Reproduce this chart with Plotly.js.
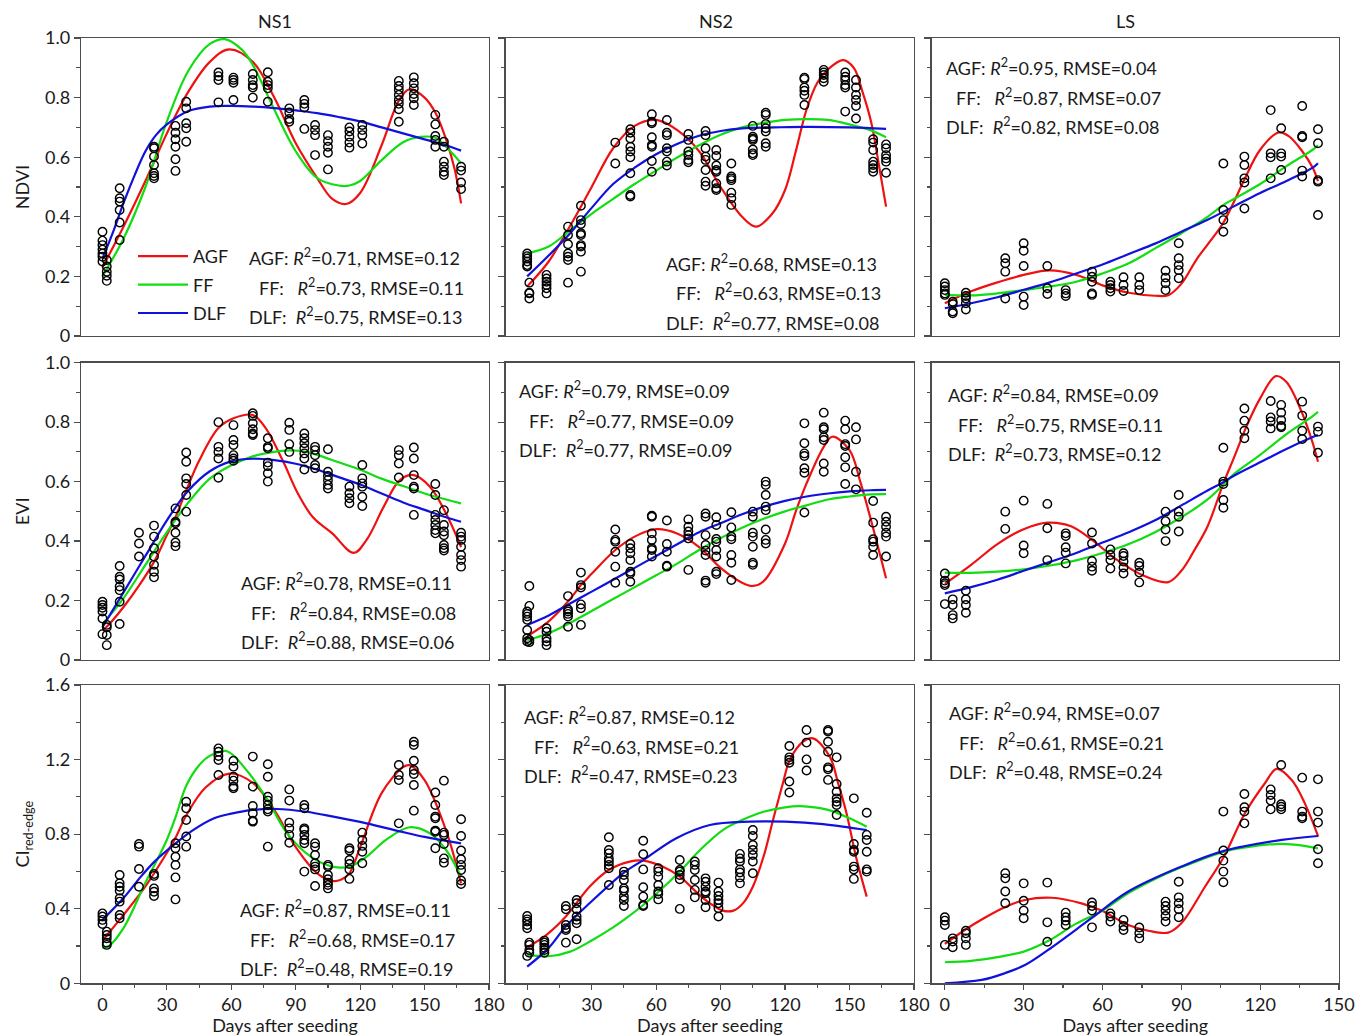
<!DOCTYPE html>
<html>
<head>
<meta charset="utf-8">
<script src="https://cdn.plot.ly/plotly-3.0.1.min.js"></script>
<style>
  html, body { margin: 0; padding: 0; background: #ffffff; }
  #chart { width: 1355px; height: 1036px; }
</style>
</head>
<body>
<div id="chart"></div>
<script>
// ---------------- Sampling days (days after seeding) ----------------
const ns1Days   = [0, 2, 8, 17, 24, 34, 39, 54, 61, 70, 77, 87, 94, 99, 105, 115, 121, 138, 145, 155, 159, 167];
const ns2Days   = [0, 1, 9, 19, 25, 41, 48, 58, 65, 75, 83, 88, 95, 105, 111, 129, 138, 148, 153, 161, 167];
const ns2CiDays = [0, 1, 8, 18, 23, 38, 45, 54, 61, 71, 78, 83, 89, 99, 105, 122, 130, 140, 144, 152, 158];
const lsDays    = [0, 3, 8, 23, 30, 39, 46, 56, 63, 68, 74, 84, 89, 106, 114, 124, 128, 136, 142];

// ---------------- Observed vegetation indices (one list per sampling day) ----------------
const ns1NdviObs = [
  [0.35, 0.32, 0.305, 0.29, 0.277, 0.266, 0.25], [0.255, 0.233, 0.216, 0.202, 0.185],
  [0.496, 0.462, 0.451, 0.423, 0.381, 0.322], [],
  [0.635, 0.63, 0.602, 0.574, 0.546, 0.537, 0.529], [0.705, 0.682, 0.66, 0.635, 0.593, 0.554],
  [0.786, 0.764, 0.714, 0.697, 0.652], [0.884, 0.872, 0.859, 0.784], [0.867, 0.859, 0.85, 0.792],
  [0.879, 0.859, 0.842, 0.834, 0.8], [0.885, 0.853, 0.842, 0.831, 0.786], [0.764, 0.75, 0.728, 0.719],
  [0.792, 0.779, 0.767, 0.695], [0.708, 0.691, 0.674, 0.607], [0.674, 0.654, 0.635, 0.615, 0.559],
  [0.70, 0.686, 0.669, 0.649, 0.632], [0.708, 0.691, 0.674, 0.646],
  [0.856, 0.839, 0.826, 0.809, 0.792, 0.779, 0.761, 0.719], [0.868, 0.848, 0.831, 0.812, 0.798, 0.775],
  [0.742, 0.71, 0.671, 0.658, 0.635], [0.652, 0.635, 0.585, 0.568, 0.551, 0.54], [0.568, 0.555, 0.515, 0.493]
];
const ns1EviObs = [
  [0.196, 0.185, 0.176, 0.163, 0.14, 0.087], [0.118, 0.11, 0.084, 0.05],
  [0.316, 0.28, 0.271, 0.247, 0.235, 0.196, 0.121], [0.428, 0.392, 0.348],
  [0.452, 0.415, 0.376, 0.348, 0.32, 0.297, 0.278], [0.51, 0.465, 0.46, 0.428, 0.395, 0.383],
  [0.698, 0.667, 0.611, 0.592, 0.555, 0.499], [0.80, 0.717, 0.70, 0.678, 0.613],
  [0.79, 0.74, 0.723, 0.689, 0.678, 0.67], [0.83, 0.821, 0.796, 0.776, 0.762, 0.757],
  [0.746, 0.717, 0.712, 0.664, 0.652, 0.628, 0.60], [0.798, 0.774, 0.726, 0.70],
  [0.762, 0.746, 0.729, 0.712, 0.695, 0.678, 0.641], [0.717, 0.706, 0.689, 0.656, 0.645],
  [0.709, 0.633, 0.619, 0.605, 0.589, 0.577], [0.583, 0.561, 0.544, 0.527],
  [0.656, 0.611, 0.594, 0.583, 0.549, 0.518], [0.706, 0.689, 0.661, 0.614],
  [0.715, 0.678, 0.622, 0.583, 0.577, 0.488], [0.592, 0.555, 0.488, 0.471, 0.454, 0.437, 0.426],
  [0.504, 0.454, 0.432, 0.42, 0.387, 0.376, 0.368], [0.428, 0.415, 0.404, 0.381, 0.353, 0.336, 0.314]
];
const ns1CiObs = [
  [0.375, 0.358, 0.34, 0.318], [0.277, 0.259, 0.241, 0.218, 0.206],
  [0.581, 0.536, 0.518, 0.497, 0.456, 0.438, 0.366, 0.349], [0.747, 0.733, 0.613, 0.518],
  [0.586, 0.576, 0.509, 0.491, 0.468], [0.751, 0.724, 0.679, 0.635, 0.568, 0.45],
  [0.974, 0.939, 0.876, 0.787, 0.733], [1.26, 1.242, 1.219, 1.198, 1.117],
  [1.194, 1.162, 1.108, 1.087, 1.055, 1.046], [1.216, 1.055, 0.951, 0.912, 0.872, 0.867],
  [1.175, 1.108, 1.001, 0.98, 0.956, 0.933, 0.921, 0.733], [1.04, 0.98, 0.862, 0.831, 0.796, 0.754],
  [0.956, 0.939, 0.831, 0.822, 0.796, 0.769, 0.751, 0.599], [0.751, 0.733, 0.688, 0.644, 0.626, 0.611, 0.522],
  [0.635, 0.626, 0.581, 0.558, 0.54, 0.527, 0.509], [0.724, 0.712, 0.661, 0.64, 0.611, 0.56],
  [0.808, 0.769, 0.737, 0.706, 0.644], [1.171, 1.117, 1.09, 0.858],
  [1.296, 1.278, 1.194, 1.144, 1.123, 1.064, 0.926], [1.023, 0.956, 0.894, 0.885, 0.819, 0.813, 0.724],
  [1.087, 0.808, 0.796, 0.747, 0.67, 0.647], [0.88, 0.79, 0.712, 0.665, 0.635, 0.608, 0.551, 0.533]
];
const ns2NdviObs = [
  [0.277, 0.268, 0.26, 0.25, 0.238, 0.233], [0.179, 0.145, 0.126, 0.143],
  [0.205, 0.193, 0.182, 0.171, 0.16, 0.143], [0.367, 0.339, 0.308, 0.277, 0.266, 0.255, 0.179],
  [0.437, 0.389, 0.376, 0.345, 0.339, 0.305, 0.30, 0.283, 0.216], [0.649, 0.579],
  [0.694, 0.682, 0.663, 0.635, 0.619, 0.60, 0.546, 0.473, 0.468],
  [0.744, 0.719, 0.714, 0.667, 0.641, 0.635, 0.587, 0.551], [0.725, 0.682, 0.674, 0.63, 0.619, 0.585, 0.572],
  [0.678, 0.658, 0.619, 0.607, 0.591, 0.583], [0.688, 0.674, 0.63, 0.602, 0.591, 0.557, 0.518, 0.504],
  [0.624, 0.604, 0.572, 0.557, 0.551, 0.512, 0.496, 0.49], [0.579, 0.535, 0.529, 0.523, 0.481, 0.462, 0.44],
  [0.705, 0.669, 0.663, 0.658, 0.626, 0.613, 0.607], [0.749, 0.742, 0.711, 0.697, 0.686, 0.647, 0.635],
  [0.867, 0.862, 0.834, 0.823, 0.809, 0.775], [0.893, 0.884, 0.876, 0.865, 0.853],
  [0.884, 0.87, 0.859, 0.842, 0.834, 0.753], [0.859, 0.834, 0.809, 0.792, 0.772, 0.73],
  [0.66, 0.649, 0.624, 0.585, 0.574, 0.563, 0.551], [0.643, 0.63, 0.607, 0.596, 0.585, 0.548]
];
const ns2EviObs = [
  [0.163, 0.155, 0.146, 0.135, 0.101, 0.073, 0.062], [0.249, 0.182, 0.067, 0.06],
  [0.107, 0.095, 0.073, 0.062, 0.05], [0.215, 0.17, 0.163, 0.155, 0.146, 0.112],
  [0.294, 0.252, 0.244, 0.187, 0.174, 0.118], [0.439, 0.404, 0.398, 0.364, 0.314, 0.26],
  [0.39, 0.376, 0.359, 0.336, 0.297, 0.291, 0.263], [0.485, 0.482, 0.426, 0.404, 0.376, 0.37, 0.348],
  [0.469, 0.39, 0.364, 0.317, 0.314], [0.473, 0.448, 0.432, 0.42, 0.409, 0.303],
  [0.493, 0.482, 0.42, 0.387, 0.368, 0.353, 0.267, 0.26], [0.48, 0.454, 0.407, 0.398, 0.37, 0.348, 0.297, 0.289],
  [0.497, 0.446, 0.415, 0.406, 0.353, 0.327, 0.269], [0.499, 0.482, 0.428, 0.415, 0.381, 0.327, 0.32],
  [0.6, 0.589, 0.555, 0.516, 0.504, 0.439, 0.404, 0.392], [0.796, 0.729, 0.695, 0.686, 0.645, 0.63, 0.496],
  [0.832, 0.783, 0.776, 0.749, 0.74, 0.661, 0.633], [0.805, 0.776, 0.726, 0.72, 0.682, 0.648, 0.592],
  [0.783, 0.742, 0.633, 0.574], [0.535, 0.462, 0.406, 0.398, 0.381, 0.353],
  [0.482, 0.465, 0.448, 0.428, 0.415, 0.348]
];
const ns2CiObs = [
  [0.361, 0.343, 0.331, 0.313, 0.295, 0.147], [0.218, 0.206, 0.179, 0.164],
  [0.229, 0.218, 0.206, 0.191, 0.179, 0.164], [0.415, 0.397, 0.313, 0.295, 0.286, 0.218],
  [0.447, 0.429, 0.397, 0.358, 0.34, 0.322, 0.236], [0.783, 0.715, 0.697, 0.67, 0.653, 0.635, 0.617, 0.527],
  [0.599, 0.581, 0.554, 0.509, 0.497, 0.465, 0.447, 0.415], [0.765, 0.692, 0.611, 0.515, 0.465, 0.42, 0.415],
  [0.617, 0.599, 0.572, 0.527, 0.492, 0.479, 0.45], [0.661, 0.608, 0.599, 0.581, 0.558, 0.399],
  [0.653, 0.635, 0.608, 0.554, 0.501, 0.461], [0.563, 0.545, 0.518, 0.492, 0.483, 0.447, 0.408],
  [0.54, 0.492, 0.468, 0.447, 0.429, 0.402, 0.358], [0.694, 0.67, 0.653, 0.611, 0.594, 0.568, 0.536],
  [0.822, 0.79, 0.742, 0.715, 0.688, 0.653, 0.59], [1.273, 1.212, 1.198, 1.183, 1.082, 1.023],
  [1.359, 1.291, 1.201, 1.141], [1.359, 1.35, 1.296, 1.242, 1.158, 1.148, 1.091],
  [1.212, 1.069, 1.028, 0.992, 0.974, 0.956, 0.903], [0.992, 0.747, 0.715, 0.706, 0.626, 0.611, 0.56],
  [0.915, 0.796, 0.769, 0.706, 0.611, 0.599]
];
const lsNdviObs = [
  [0.177, 0.166, 0.154, 0.143, 0.138], [0.115, 0.107, 0.082, 0.076], [0.145, 0.134, 0.126, 0.11, 0.089],
  [0.261, 0.244, 0.216, 0.126], [0.311, 0.286, 0.235, 0.132, 0.104], [0.235, 0.16, 0.141],
  [0.154, 0.143, 0.134], [0.216, 0.199, 0.182, 0.143, 0.138], [0.182, 0.171, 0.16, 0.149],
  [0.197, 0.171, 0.151], [0.197, 0.171, 0.154], [0.219, 0.196, 0.177, 0.154],
  [0.311, 0.261, 0.238, 0.221, 0.194], [0.579, 0.423, 0.389, 0.35], [0.602, 0.574, 0.529, 0.515, 0.428],
  [0.758, 0.613, 0.60, 0.529], [0.697, 0.613, 0.602, 0.557], [0.772, 0.671, 0.667, 0.555, 0.535],
  [0.694, 0.647, 0.523, 0.518, 0.406]
];
const lsEviObs = [
  [0.291, 0.267, 0.258, 0.252, 0.188], [0.204, 0.185, 0.151, 0.14], [0.233, 0.204, 0.185, 0.159],
  [0.499, 0.441], [0.536, 0.385, 0.359], [0.525, 0.443, 0.336], [0.426, 0.417, 0.379, 0.361, 0.325],
  [0.429, 0.392, 0.333, 0.314, 0.30], [0.372, 0.353, 0.336, 0.308], [0.359, 0.35, 0.331, 0.311, 0.291],
  [0.327, 0.316, 0.294, 0.261], [0.499, 0.467, 0.439, 0.40], [0.555, 0.499, 0.482, 0.432],
  [0.714, 0.60, 0.592, 0.538, 0.512], [0.846, 0.805, 0.771, 0.746], [0.871, 0.816, 0.802, 0.779],
  [0.858, 0.832, 0.807, 0.787, 0.783], [0.869, 0.822, 0.771, 0.743], [0.785, 0.768, 0.697]
];
const lsCiObs = [
  [0.354, 0.336, 0.313, 0.206], [0.241, 0.224, 0.193], [0.282, 0.268, 0.241, 0.206],
  [0.59, 0.563, 0.492, 0.429], [0.536, 0.443, 0.39, 0.349], [0.54, 0.327, 0.223],
  [0.379, 0.354, 0.336, 0.313], [0.433, 0.415, 0.39, 0.30], [0.375, 0.358, 0.331],
  [0.34, 0.307, 0.286], [0.299, 0.268, 0.241], [0.438, 0.415, 0.39, 0.361, 0.331],
  [0.545, 0.461, 0.429, 0.397, 0.354], [0.921, 0.712, 0.658, 0.599, 0.542], [1.015, 0.944, 0.921, 0.858],
  [1.04, 1.01, 0.98, 0.933], [1.171, 0.96, 0.947, 0.933], [1.103, 0.921, 0.894, 0.885],
  [1.094, 0.921, 0.862, 0.719, 0.644]
];

// ---------------- Fitted curves: [day, value] ----------------
const ns1NdviAgf = [[0,0.23],[10,0.37],[20,0.52],[30,0.68],[40,0.82],[50,0.92],[59,0.962],[70,0.92],[80,0.80],[90,0.647],[100,0.53],[107,0.46],[113.5,0.443],[120,0.48],[130,0.64],[138,0.79],[143,0.828],[150,0.80],[155,0.75],[160,0.66],[164,0.56],[167,0.445]];
const ns1NdviFf  = [[0,0.20],[10,0.33],[20,0.50],[30,0.72],[40,0.89],[50,0.98],[57,0.996],[65,0.96],[70,0.91],[80,0.76],[90,0.62],[100,0.53],[110,0.505],[115,0.505],[120,0.52],[130,0.59],[140,0.65],[148,0.668],[155,0.665],[160,0.635],[167,0.58]];
const ns1NdviDlf = [[0,0.26],[5,0.35],[10,0.45],[15,0.54],[20,0.62],[25,0.675],[30,0.71],[40,0.755],[50,0.77],[60,0.772],[70,0.77],[80,0.765],[90,0.757],[100,0.748],[110,0.735],[120,0.72],[130,0.70],[140,0.68],[150,0.66],[160,0.64],[167,0.622]];

const ns2NdviAgf = [[0,0.166],[10,0.25],[20,0.37],[30,0.50],[40,0.63],[50,0.705],[60,0.725],[70,0.69],[80,0.62],[90,0.50],[100,0.40],[106.5,0.367],[114,0.41],[120,0.49],[125,0.62],[130,0.76],[135,0.85],[140,0.895],[147,0.926],[152,0.90],[156,0.82],[160,0.72],[164,0.56],[167,0.434]];
const ns2NdviFf  = [[0,0.277],[10,0.30],[20,0.355],[30,0.41],[40,0.46],[50,0.51],[60,0.555],[70,0.60],[80,0.64],[90,0.675],[100,0.70],[110,0.715],[120,0.725],[130,0.728],[140,0.725],[150,0.71],[160,0.69],[167,0.667]];
const ns2NdviDlf = [[0,0.20],[10,0.27],[20,0.345],[30,0.43],[40,0.51],[50,0.565],[60,0.61],[70,0.645],[80,0.672],[90,0.688],[100,0.697],[115,0.70],[130,0.702],[150,0.70],[167,0.695]];

const lsNdviAgf = [[0,0.11],[10,0.15],[20,0.18],[30,0.205],[40,0.22],[50,0.205],[60,0.17],[70,0.145],[80,0.135],[85,0.137],[90,0.175],[96,0.26],[102,0.33],[106,0.38],[110,0.45],[114,0.525],[120,0.625],[127,0.683],[131,0.67],[136,0.62],[140,0.565],[142,0.52]];
const lsNdviFf  = [[0,0.138],[10,0.136],[20,0.143],[30,0.154],[40,0.166],[50,0.182],[60,0.21],[70,0.244],[80,0.294],[90,0.345],[100,0.40],[106,0.44],[110,0.46],[120,0.51],[130,0.57],[140,0.625],[142,0.64]];
const lsNdviDlf = [[0,0.093],[10,0.11],[20,0.13],[30,0.155],[40,0.18],[50,0.21],[60,0.24],[70,0.275],[80,0.31],[90,0.35],[100,0.39],[110,0.435],[120,0.48],[130,0.52],[140,0.565],[142,0.58]];

const ns1EviAgf = [[0,0.10],[2,0.112],[10,0.18],[17,0.25],[24,0.33],[30,0.42],[34,0.48],[39,0.57],[45,0.67],[54,0.78],[61,0.813],[70,0.824],[76,0.78],[84,0.67],[91,0.56],[98,0.48],[107,0.426],[117,0.36],[123,0.404],[131,0.516],[138.5,0.605],[145,0.622],[152.5,0.583],[160,0.493],[167,0.38]];
const ns1EviFf  = [[0,0.12],[10,0.21],[20,0.32],[30,0.43],[40,0.53],[50,0.61],[60,0.655],[70,0.685],[80,0.70],[87,0.705],[95,0.70],[100,0.69],[110,0.665],[120,0.64],[130,0.61],[140,0.585],[150,0.56],[160,0.54],[167,0.527]];
const ns1EviDlf = [[0,0.11],[10,0.23],[20,0.35],[30,0.47],[40,0.57],[50,0.635],[60,0.668],[70,0.677],[80,0.672],[90,0.66],[100,0.64],[110,0.615],[120,0.59],[130,0.56],[140,0.53],[150,0.505],[160,0.48],[167,0.465]];

const ns2EviAgf = [[0,0.08],[10,0.13],[20,0.205],[25,0.252],[30,0.29],[41,0.37],[50,0.415],[60,0.44],[70,0.425],[80,0.38],[90,0.31],[100,0.26],[105,0.249],[110,0.265],[120,0.392],[125,0.50],[130,0.594],[138,0.717],[142,0.751],[150,0.706],[155,0.60],[160,0.47],[167,0.275]];
const ns2EviFf  = [[0,0.067],[10,0.09],[20,0.125],[30,0.165],[40,0.205],[50,0.245],[60,0.285],[70,0.325],[80,0.37],[90,0.41],[100,0.445],[110,0.475],[120,0.50],[130,0.52],[140,0.54],[150,0.55],[160,0.557],[167,0.558]];
const ns2EviDlf = [[0,0.118],[10,0.15],[20,0.19],[30,0.23],[40,0.27],[50,0.31],[60,0.35],[70,0.39],[80,0.43],[90,0.46],[100,0.49],[110,0.515],[120,0.535],[130,0.55],[140,0.56],[150,0.567],[160,0.571],[167,0.572]];

const lsEviAgf = [[0,0.256],[10,0.32],[20,0.39],[30,0.44],[39,0.462],[48,0.45],[56,0.404],[65,0.34],[75,0.286],[85,0.262],[90,0.30],[95,0.37],[100,0.45],[106,0.594],[110,0.68],[115,0.79],[120,0.88],[126,0.955],[130,0.935],[136,0.83],[140,0.73],[142,0.667]];
const lsEviFf  = [[0,0.294],[10,0.293],[20,0.297],[30,0.305],[40,0.318],[50,0.335],[60,0.36],[70,0.39],[80,0.43],[90,0.48],[100,0.54],[106,0.59],[110,0.625],[120,0.69],[130,0.76],[140,0.82],[142,0.835]];
const lsEviDlf = [[0,0.224],[10,0.245],[20,0.27],[30,0.30],[40,0.33],[50,0.36],[60,0.395],[70,0.43],[80,0.47],[90,0.52],[100,0.57],[106,0.598],[110,0.62],[120,0.665],[130,0.71],[140,0.75],[142,0.757]];

const ns1CiAgf = [[0,0.23],[10,0.37],[20,0.52],[30,0.70],[34,0.78],[39,0.90],[48,1.05],[59,1.125],[70,1.075],[80,0.93],[90,0.73],[100,0.59],[107,0.549],[111,0.555],[115,0.59],[120,0.73],[130,1.02],[140,1.16],[143,1.17],[150,1.09],[160,0.82],[167,0.536]];
const ns1CiFf  = [[0,0.19],[3,0.20],[10,0.30],[20,0.54],[25,0.652],[30,0.77],[34,0.89],[39,1.06],[45,1.17],[50,1.22],[58,1.245],[67,1.144],[76,1.0],[86,0.804],[97,0.679],[107,0.626],[115,0.626],[123,0.679],[132,0.769],[143,0.837],[152.5,0.804],[160,0.715],[167,0.572]];
const ns1CiDlf = [[0,0.34],[10,0.46],[17,0.56],[24,0.65],[34,0.75],[42,0.82],[52,0.885],[60,0.91],[70,0.93],[81,0.935],[95,0.92],[107.5,0.894],[123,0.858],[138.5,0.815],[150,0.785],[167,0.751]];

const ns2CiAgf = [[0,0.193],[9,0.26],[18,0.358],[29,0.518],[38,0.608],[47.7,0.653],[54,0.658],[63,0.626],[71,0.572],[82,0.456],[91,0.39],[96,0.39],[100.5,0.43],[105,0.518],[110,0.68],[114.4,0.876],[119,1.073],[122.2,1.198],[128.4,1.296],[133,1.314],[140.8,1.216],[144.7,1.073],[148.6,0.912],[153,0.679],[158,0.465]];
const ns2CiFf  = [[0,0.152],[10,0.145],[20,0.17],[30,0.23],[40,0.30],[45,0.34],[54,0.42],[61,0.49],[71,0.60],[80,0.71],[91,0.822],[100,0.876],[110,0.92],[120,0.944],[127,0.95],[140,0.93],[150,0.885],[158,0.84]];
const ns2CiDlf = [[0,0.089],[10,0.19],[17.9,0.304],[29,0.429],[44.6,0.59],[54,0.661],[69.4,0.778],[85,0.849],[103.6,0.867],[120,0.867],[137.7,0.854],[158,0.822]];

const lsCiAgf = [[0,0.211],[7.6,0.286],[15,0.35],[22.8,0.408],[30.5,0.447],[40.6,0.459],[52,0.429],[59.6,0.39],[69.8,0.313],[77.4,0.282],[85,0.272],[90,0.322],[99,0.518],[106.2,0.679],[114.2,0.912],[121.8,1.073],[126.3,1.15],[132,1.09],[137,0.965],[142.1,0.787]];
const lsCiFf  = [[0,0.113],[10,0.12],[20,0.14],[30,0.17],[40,0.232],[50,0.32],[60,0.39],[70,0.485],[80,0.56],[90,0.622],[106,0.705],[115,0.73],[126,0.747],[134,0.742],[142,0.724]];
const lsCiDlf = [[0,0.0],[14,0.018],[22.8,0.054],[30.5,0.098],[39.3,0.179],[55.8,0.349],[69.8,0.492],[90,0.626],[106.2,0.71],[128.2,0.769],[142,0.79]];

// ---------------- Goodness of fit: [R², RMSE] for AGF, FF, DLF ----------------
const modelNames = ['AGF', 'FF', 'DLF'];
const ns1NdviFit = [[0.71, 0.12], [0.73, 0.11], [0.75, 0.13]];
const ns2NdviFit = [[0.68, 0.13], [0.63, 0.13], [0.77, 0.08]];
const lsNdviFit  = [[0.95, 0.04], [0.87, 0.07], [0.82, 0.08]];
const ns1EviFit  = [[0.78, 0.11], [0.84, 0.08], [0.88, 0.06]];
const ns2EviFit  = [[0.79, 0.09], [0.77, 0.09], [0.77, 0.09]];
const lsEviFit   = [[0.84, 0.09], [0.75, 0.11], [0.73, 0.12]];
const ns1CiFit   = [[0.87, 0.11], [0.68, 0.17], [0.48, 0.19]];
const ns2CiFit   = [[0.87, 0.12], [0.63, 0.21], [0.47, 0.23]];
const lsCiFit    = [[0.94, 0.07], [0.61, 0.21], [0.48, 0.24]];

// ---------------- Labels ----------------
const siteNames  = ['NS1', 'NS2', 'LS'];
const indexNames = ['NDVI', 'EVI', 'CI<sub>red-edge</sub>'];
const xTitle = 'Days after seeding';

// ---------------- Page geometry ----------------
const W = 1355, H = 1036;
const FONT = 'Lato, "Liberation Sans", Arial, sans-serif';
const TEXT_COLOR = '#1a1a1a';
const AXIS_COLOR = '#4d4d4d';
const modelColors = ['#ee1111', '#11dd11', '#1111dd'];
const colPx = [[81, 489], [505.7, 914], [931.7, 1339]];
const rowPx = [[38, 336], [362.7, 660], [685, 983.3]];
const colRanges = [[-10, 180], [-10, 180], [-5, 150]];
const rowRanges = [[0, 1], [0, 1], [0, 1.6]];
const titleCentersPx = [274.5, 715.7, 1125.5];
// left x and first-line y of each fit-statistics block, per panel (row-major)
const statBlockPx = [
  [247, 257], [664, 263], [944, 67],
  [239, 582], [517, 390], [946, 394],
  [238, 909], [522, 716], [947, 712]
];

const panels = [
  { days: ns1Days,   obs: ns1NdviObs, curves: [ns1NdviAgf, ns1NdviFf, ns1NdviDlf], fit: ns1NdviFit },
  { days: ns2Days,   obs: ns2NdviObs, curves: [ns2NdviAgf, ns2NdviFf, ns2NdviDlf], fit: ns2NdviFit },
  { days: lsDays,    obs: lsNdviObs,  curves: [lsNdviAgf,  lsNdviFf,  lsNdviDlf],  fit: lsNdviFit },
  { days: ns1Days,   obs: ns1EviObs,  curves: [ns1EviAgf,  ns1EviFf,  ns1EviDlf],  fit: ns1EviFit },
  { days: ns2Days,   obs: ns2EviObs,  curves: [ns2EviAgf,  ns2EviFf,  ns2EviDlf],  fit: ns2EviFit },
  { days: lsDays,    obs: lsEviObs,   curves: [lsEviAgf,   lsEviFf,   lsEviDlf],   fit: lsEviFit },
  { days: ns1Days,   obs: ns1CiObs,   curves: [ns1CiAgf,   ns1CiFf,   ns1CiDlf],   fit: ns1CiFit },
  { days: ns2CiDays, obs: ns2CiObs,   curves: [ns2CiAgf,   ns2CiFf,   ns2CiDlf],   fit: ns2CiFit },
  { days: lsDays,    obs: lsCiObs,    curves: [lsCiAgf,    lsCiFf,    lsCiDlf],    fit: lsCiFit }
];

const traces = [];
const annotations = [];
const layout = {
  width: W, height: H,
  margin: { l: 0, r: 0, t: 0, b: 0 },
  paper_bgcolor: '#ffffff', plot_bgcolor: '#ffffff',
  font: { family: FONT, size: 18, color: TEXT_COLOR },
  hovermode: false,
  showlegend: true,
  legend: {
    x: 133 / W, xanchor: 'left', y: 1 - 238 / H, yanchor: 'top',
    bgcolor: 'rgba(0,0,0,0)', borderwidth: 0,
    font: { family: FONT, size: 18, color: TEXT_COLOR },
    itemwidth: 50, traceorder: 'grouped', tracegroupgap: 2,
    itemclick: false, itemdoubleclick: false
  },
  annotations: annotations
};

const px2x = p => p / W;
const px2y = p => 1 - p / H;

panels.forEach((panel, k) => {
  const r = Math.floor(k / 3), c = k % 3;
  const sfx = k === 0 ? '' : String(k + 1);
  const xa = 'x' + sfx, ya = 'y' + sfx;

  // fitted curves
  panel.curves.forEach((curve, m) => {
    traces.push({
      type: 'scatter', mode: 'lines',
      x: curve.map(p => p[0]), y: curve.map(p => p[1]),
      xaxis: xa, yaxis: ya,
      name: modelNames[m], legendgroup: modelNames[m],
      showlegend: k === 0,
      line: { color: modelColors[m], width: 2.2, shape: 'spline', smoothing: 1 }
    });
  });

  // observations
  const ox = [], oy = [];
  panel.days.forEach((d, i) => panel.obs[i].forEach(v => { ox.push(d); oy.push(v); }));
  traces.push({
    type: 'scatter', mode: 'markers', x: ox, y: oy,
    xaxis: xa, yaxis: ya, showlegend: false,
    marker: { symbol: 'circle-open', size: 8.5, color: '#000000', line: { width: 1.4 } }
  });

  // axes
  const isBottom = r === 2, isLeft = c === 0;
  const xAxis = {
    domain: [px2x(colPx[c][0]), px2x(colPx[c][1])],
    range: colRanges[c], anchor: ya, fixedrange: true,
    showline: true, mirror: true, linecolor: AXIS_COLOR, linewidth: 1.3,
    showgrid: false, zeroline: false,
    tickmode: 'linear', tick0: 0, dtick: 30,
    ticks: isBottom ? 'outside' : '', ticklen: 5, tickwidth: 1.2, tickcolor: AXIS_COLOR,
    showticklabels: isBottom,
    tickfont: { family: FONT, size: 18, color: TEXT_COLOR }
  };
  if (isBottom) {
    xAxis.minor = { ticks: 'outside', dtick: 15, ticklen: 3, tickwidth: 1.2, tickcolor: AXIS_COLOR, showgrid: false };
    xAxis.title = { text: xTitle, standoff: 6, font: { family: FONT, size: 18, color: TEXT_COLOR } };
  }
  layout['xaxis' + sfx] = xAxis;

  const yAxis = {
    domain: [px2y(rowPx[r][1]), px2y(rowPx[r][0])],
    range: rowRanges[r], anchor: xa, fixedrange: true,
    showline: true, mirror: true, linecolor: AXIS_COLOR, linewidth: 1.3,
    showgrid: false, zeroline: false,
    tickmode: 'linear', tick0: 0, dtick: r === 2 ? 0.4 : 0.2,
    tickformat: r === 2 ? '' : '.1f', labelalias: { '0.0': '0' },
    ticks: 'outside', ticklen: 6, tickwidth: 1.2, tickcolor: AXIS_COLOR,
    minor: { ticks: 'outside', dtick: r === 2 ? 0.2 : 0.1, ticklen: 3.5, tickwidth: 1.2, tickcolor: AXIS_COLOR, showgrid: false },
    showticklabels: isLeft,
    tickfont: { family: FONT, size: 18, color: TEXT_COLOR }
  };
  if (isLeft) {
    yAxis.title = { text: indexNames[r], standoff: 10, font: { family: FONT, size: 18, color: TEXT_COLOR } };
  }
  layout['yaxis' + sfx] = yAxis;

  // fit statistics block
  const [bx, by] = statBlockPx[k];
  const gaps = [' ', '\u00a0\u00a0\u00a0', '\u00a0\u00a0'];
  const indent = [0, 9.5, 0];
  panel.fit.forEach((f, m) => {
    annotations.push({
      xref: 'paper', yref: 'paper',
      x: px2x(bx + indent[m]), y: px2y(by + m * 29.5),
      xanchor: 'left', yanchor: 'middle', showarrow: false,
      text: modelNames[m] + ':' + gaps[m] + '<i>R</i><sup>2</sup>=' + f[0].toFixed(2) + ', RMSE=' + f[1].toFixed(2),
      font: { family: FONT, size: 18, color: TEXT_COLOR }
    });
  });
});

// site titles above each column
siteNames.forEach((s, c) => {
  annotations.push({
    xref: 'paper', yref: 'paper', x: px2x(titleCentersPx[c]), y: px2y(21),
    xanchor: 'center', yanchor: 'middle', showarrow: false,
    text: s, font: { family: FONT, size: 18, color: TEXT_COLOR }
  });
});

Plotly.newPlot('chart', traces, layout, { displayModeBar: false, staticPlot: true });
</script>
</body>
</html>
